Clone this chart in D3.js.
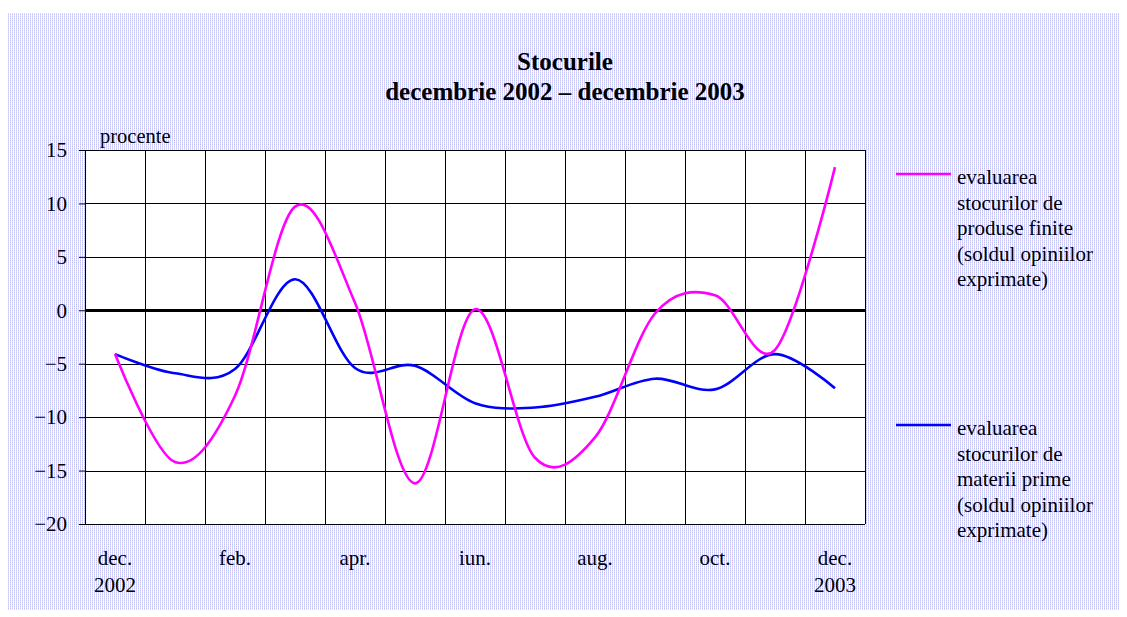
<!DOCTYPE html>
<html lang="ro">
<head>
<meta charset="UTF-8">
<script src="https://d3js.org/d3.v7.min.js"></script>
<title>Stocurile</title>
<style>
    body { margin: 0; background: white; }
    svg text { font-family: "Liberation Serif", "Times New Roman", serif; fill: #000; }
</style>
</head>
<body>
<div id="chart"></div>
<script>
    // months dec. 2002 .. dec. 2003
    const months = ["dec02", "ian", "feb", "mar", "apr", "mai", "iun", "iul", "aug", "sep", "oct", "nov", "dec03"];
    const monthLabels = {dec02: ["dec.", "2002"], feb: ["feb."], apr: ["apr."], iun: ["iun."], aug: ["aug."], oct: ["oct."], dec03: ["dec.", "2003"]};

    // evaluarea stocurilor de produse finite
    const finite = [-4.1, -14.2, -8.0, 9.7, 0.7, -16.2, 0.1, -13.8, -11.9, -0.3, 1.4, -3.7, 13.4];
    // evaluarea stocurilor de materii prime
    const prime = [-4.1, -5.9, -5.5, 2.9, -5.4, -5.2, -8.7, -9.1, -8.1, -6.4, -7.4, -4.1, -7.3];

    const yTicks = [15, 10, 5, 0, -5, -10, -15, -20];

    const legendItems = [
        {color: "#ff00ff", lines: ["evaluarea", "stocurilor de", "produse finite", "(soldul opiniilor", "exprimate)"]},
        {color: "#0000ff", lines: ["evaluarea", "stocurilor de", "materii prime", "(soldul opiniilor", "exprimate)"]}
    ];

    const W = 1127, H = 617;
    const plot = {left: 85, right: 865, top: 150, bottom: 524};

    const svg = d3.select("#chart").append("svg")
        .attr("width", W)
        .attr("height", H);

    // dotted background pattern
    const defs = svg.append("defs");
    const pat = defs.append("pattern")
        .attr("id", "dots")
        .attr("width", 2).attr("height", 2)
        .attr("patternUnits", "userSpaceOnUse");
    pat.append("rect").attr("width", 2).attr("height", 2).attr("fill", "#ffffff");
    pat.append("rect").attr("x", 0).attr("y", 0).attr("width", 1).attr("height", 1).attr("fill", "#c4c4f4");
    pat.append("rect").attr("x", 0).attr("y", 1).attr("width", 1).attr("height", 1).attr("fill", "#dedefa");

    svg.append("rect")
        .attr("x", 8).attr("y", 13)
        .attr("width", 1112).attr("height", 597)
        .attr("fill", "url(#dots)");

    const x = d3.scaleBand()
        .domain(months)
        .range([plot.left, plot.right]);

    const y = d3.scaleLinear()
        .domain([-20, 15])
        .range([plot.bottom, plot.top]);

    // plot area
    svg.append("rect")
        .attr("x", plot.left).attr("y", plot.top)
        .attr("width", plot.right - plot.left)
        .attr("height", plot.bottom - plot.top)
        .attr("fill", "white");

    // vertical gridlines on category boundaries
    const bounds = months.map(m => x(m)).concat([x.range()[1]]);
    svg.append("g").selectAll("line")
        .data(bounds)
        .enter()
        .append("line")
        .attr("x1", d => d).attr("x2", d => d)
        .attr("y1", plot.top).attr("y2", plot.bottom)
        .attr("stroke", "#000")
        .attr("stroke-width", 1)
        .attr("shape-rendering", "crispEdges");

    // horizontal gridlines
    svg.append("g").selectAll("line")
        .data(yTicks)
        .enter()
        .append("line")
        .attr("x1", plot.left).attr("x2", plot.right)
        .attr("y1", d => Math.round(y(d)) + 0.5).attr("y2", d => Math.round(y(d)) + 0.5)
        .attr("stroke", "#000")
        .attr("stroke-width", d => d === 0 ? 3 : 1);

    // y axis
    const yAxis = svg.append("g")
        .attr("transform", `translate(${plot.left},0)`)
        .call(d3.axisLeft(y).tickValues(yTicks).tickSize(6).tickPadding(12));
    yAxis.select(".domain").attr("stroke", "#000");
    yAxis.selectAll("text")
        .style("font-size", "21px")
        .style("font-family", "'Liberation Serif', serif");
    yAxis.selectAll(".tick line").attr("stroke", "#000");

    svg.append("text")
        .attr("x", 100).attr("y", 143)
        .style("font-size", "20.5px")
        .text("procente");

    // x labels
    const xl = svg.append("g");
    months.filter(m => monthLabels[m]).forEach(m => {
        monthLabels[m].forEach((t, i) => {
            xl.append("text")
                .attr("x", x(m) + x.bandwidth() / 2)
                .attr("y", 565 + i * 27)
                .attr("text-anchor", "middle")
                .style("font-size", "21px")
                .text(t);
        });
    });

    // lines
    const line = d3.line()
        .x((d, i) => x(months[i]) + x.bandwidth() / 2)
        .y(d => y(d))
        .curve(d3.curveCatmullRom.alpha(0));

    svg.append("path")
        .datum(prime)
        .attr("fill", "none")
        .attr("stroke", "#0000ff")
        .attr("stroke-width", 2.6)
        .attr("d", line);

    svg.append("path")
        .datum(finite)
        .attr("fill", "none")
        .attr("stroke", "#ff00ff")
        .attr("stroke-width", 2.6)
        .attr("d", line);

    // title
    svg.append("text")
        .attr("x", 565).attr("y", 70)
        .attr("text-anchor", "middle")
        .style("font-size", "25px")
        .style("font-weight", "bold")
        .text("Stocurile");
    svg.append("text")
        .attr("x", 565).attr("y", 100)
        .attr("text-anchor", "middle")
        .style("font-size", "25px")
        .style("font-weight", "bold")
        .text("decembrie 2002 – decembrie 2003");

    // legend
    const legendY = [174, 425];
    legendItems.forEach((item, k) => {
        const g = svg.append("g");
        g.append("line")
            .attr("x1", 896).attr("x2", 951)
            .attr("y1", legendY[k]).attr("y2", legendY[k])
            .attr("stroke", item.color)
            .attr("stroke-width", 2.6);
        item.lines.forEach((t, i) => {
            g.append("text")
                .attr("x", 957)
                .attr("y", legendY[k] + 10 + i * 25.5)
                .style("font-size", "21px")
                .text(t);
        });
    });
</script>
</body>
</html>
